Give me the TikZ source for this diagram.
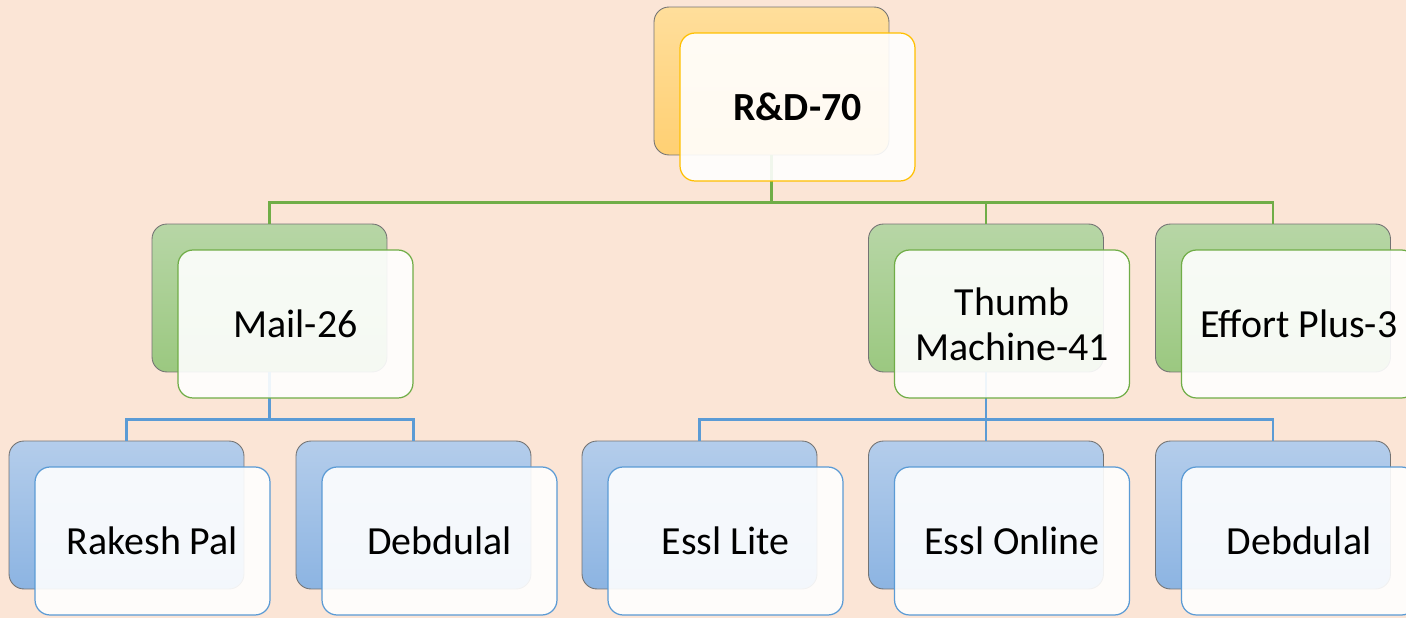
\documentclass[tikz,border=0pt]{standalone}
\usepackage{fontspec}
\setmainfont{Carlito}
\definecolor{peach}{HTML}{FBE5D6}
\definecolor{goldline}{HTML}{FFC000}
\definecolor{greenline}{HTML}{70AD47}
\definecolor{blueline}{HTML}{5B9BD5}
\begin{document}
\begin{tikzpicture}[
    x=0.02cm, y=-0.02cm,
    backbox/.style={rectangle, rounded corners=0.3cm, draw=black!55, line width=0.5pt,
        minimum width=4.7cm, minimum height=2.96cm},
    frontbox/.style={rectangle, rounded corners=0.3cm, draw, line width=0.7pt,
        fill=white, fill opacity=0.9, text opacity=1,
        minimum width=4.7cm, minimum height=2.96cm, align=center,
        font=\fontsize{22.7}{25.5}\selectfont, xshift=0.52cm, yshift=-0.52cm},
    orangeback/.style={backbox, top color={rgb,255:red,255;green,222;blue,155}, bottom color={rgb,255:red,255;green,208;blue,115}},
    greenback/.style={backbox, top color={rgb,255:red,183;green,214;blue,166}, bottom color={rgb,255:red,155;green,200;blue,128}},
    blueback/.style={backbox, top color={rgb,255:red,180;green,205;blue,235}, bottom color={rgb,255:red,140;green,180;blue,226}},
    gline/.style={draw=greenline, line width=1.6pt},
    bline/.style={draw=blueline, line width=1.6pt}
]
\useasboundingbox (0,0) rectangle (1406,618);
\fill[peach] (0,0) rectangle (1406,618);

% Back boxes
\node (rd-b) [orangeback] at (771.5,81) {};
\node (mail-b) [greenback] at (269.5,298) {};
\node (thumb-b) [greenback] at (986,298) {};
\node (effort-b) [greenback] at (1273,298) {};
\node (rakesh-b) [blueback] at (126.5,515) {};
\node (deb1-b) [blueback] at (413.5,515) {};
\node (lite-b) [blueback] at (699.5,515) {};
\node (online-b) [blueback] at (986,515) {};
\node (deb2-b) [blueback] at (1273,515) {};

% Connectors
\draw [gline] (rd-b.south) -- ++(0,47) -| (mail-b.north);
\draw [gline] (rd-b.south) -- ++(0,47) -| (thumb-b.north);
\draw [gline] (rd-b.south) -- ++(0,47) -| (effort-b.north);
\draw [bline] (mail-b.south) -- ++(0,47) -| (rakesh-b.north);
\draw [bline] (mail-b.south) -- ++(0,47) -| (deb1-b.north);
\draw [bline] (thumb-b.south) -- ++(0,47) -| (lite-b.north);
\draw [bline] (thumb-b.south) -- ++(0,47) -| (online-b.north);
\draw [bline] (thumb-b.south) -- ++(0,47) -| (deb2-b.north);

% Front boxes
\node (rd) [frontbox, draw=goldline, font=\fontsize{22.7}{25.5}\selectfont\bfseries] at (rd-b) {R\&D-70};
\node (mail) [frontbox, draw=greenline] at (mail-b) {Mail-26};
\node (thumb) [frontbox, draw=greenline] at (thumb-b) {Thumb\\Machine-41};
\node (effort) [frontbox, draw=greenline] at (effort-b) {Effort Plus-3};
\node (rakesh) [frontbox, draw=blueline] at (rakesh-b) {Rakesh Pal};
\node (deb1) [frontbox, draw=blueline] at (deb1-b) {Debdulal};
\node (lite) [frontbox, draw=blueline] at (lite-b) {Essl Lite};
\node (online) [frontbox, draw=blueline] at (online-b) {Essl Online};
\node (deb2) [frontbox, draw=blueline] at (deb2-b) {Debdulal};

\end{tikzpicture}
\end{document}
